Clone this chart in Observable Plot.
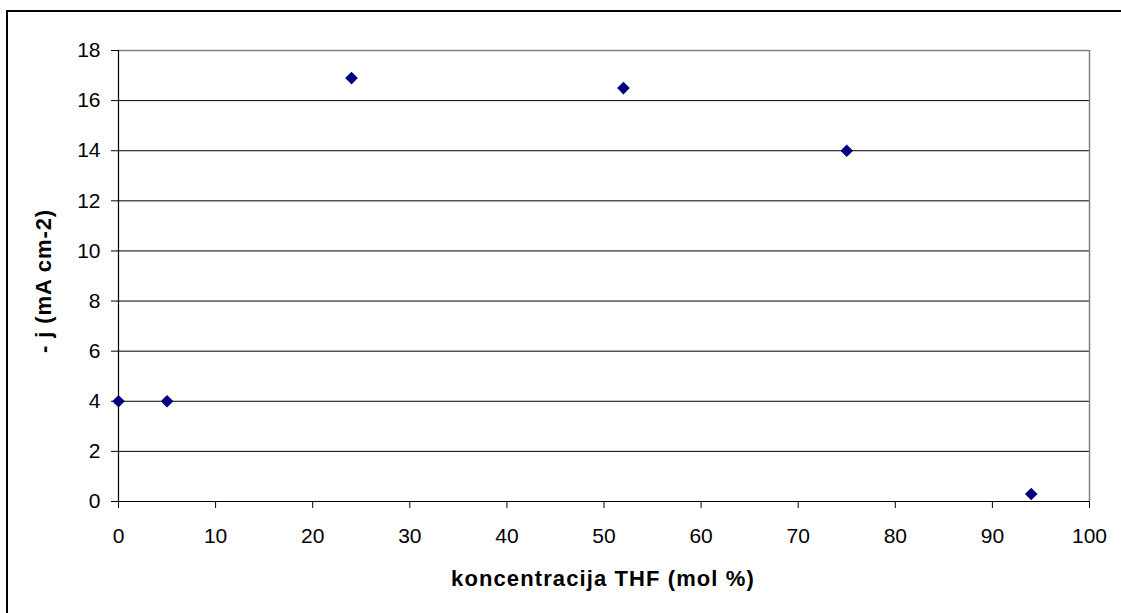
<!DOCTYPE html>
<html>
<head>
<meta charset="utf-8">
<script src="https://cdn.jsdelivr.net/npm/d3@7"></script>
<script src="https://cdn.jsdelivr.net/npm/@observablehq/plot@0.6"></script>
<style>
  html, body { margin: 0; padding: 0; background: #fff; overflow: hidden; }
  #wrap { position: relative; width: 1121px; height: 613px; }
  #border { position: absolute; left: 6px; top: 10px; width: 1200px; height: 700px; border: 2px solid #000; pointer-events: none; }
  svg { font-family: "Liberation Sans", Arial, sans-serif; }
</style>
</head>
<body>
<div id="wrap"><div id="border"></div></div>
<script>
const concentration = [0, 5, 24, 52, 75, 94];
const current = [4, 4, 16.9, 16.5, 14, 0.3];
const xTicks = [0, 10, 20, 30, 40, 50, 60, 70, 80, 90, 100];
const yTicks = [0, 2, 4, 6, 8, 10, 12, 14, 16, 18];
const xLabel = "koncentracija THF (mol %)";
const yLabel = "- j (mA cm-2)";

const data = concentration.map((x, i) => ({x, y: current[i]}));

const chart = Plot.plot({
  width: 1121,
  height: 613,
  marginLeft: 118,
  marginRight: 32,
  marginTop: 50,
  marginBottom: 112,
  style: {fontFamily: '"Liberation Sans", Arial, sans-serif', fontSize: "21px", color: "#000", background: "transparent"},
  x: {domain: [0, 100]},
  y: {domain: [0, 18]},
  marks: [
    Plot.ruleY(yTicks.filter(d => d > 0 && d < 18), {stroke: "#000", strokeWidth: 1}),
    Plot.ruleY([18], {stroke: "#808080", strokeWidth: 1.5}),
    Plot.ruleX([100], {stroke: "#808080", strokeWidth: 1.5}),
    Plot.ruleX([0], {stroke: "#000", strokeWidth: 1.2}),
    Plot.ruleY([0], {stroke: "#000", strokeWidth: 1.2}),
    Plot.axisX(xTicks, {tickSize: 7, tickPadding: 20, fontSize: 21, label: null, stroke: "#000"}),
    Plot.axisY(yTicks, {tickSize: 7, tickPadding: 11, fontSize: 21, label: null, stroke: "#000"}),
    Plot.dot(data, {x: "x", y: "y", symbol: "diamond2", r: 5.7, fill: "#000080", stroke: "none"})
  ]
});
document.getElementById("wrap").appendChild(chart);

const svg = d3.select(chart);
// x-axis title
svg.append("text")
  .attr("x", 603)
  .attr("y", 580)
  .attr("text-anchor", "middle")
  .attr("dominant-baseline", "middle")
  .attr("font-weight", "bold")
  .attr("font-size", 22)
  .attr("letter-spacing", "1.1px")
  .attr("fill", "#000")
  .text(xLabel);
// y-axis title
svg.append("text")
  .attr("transform", "translate(45,281) rotate(-90)")
  .attr("text-anchor", "middle")
  .attr("dominant-baseline", "middle")
  .attr("font-weight", "bold")
  .attr("font-size", 22)
  .attr("letter-spacing", "0.9px")
  .attr("fill", "#000")
  .text(yLabel);
</script>
</body>
</html>
